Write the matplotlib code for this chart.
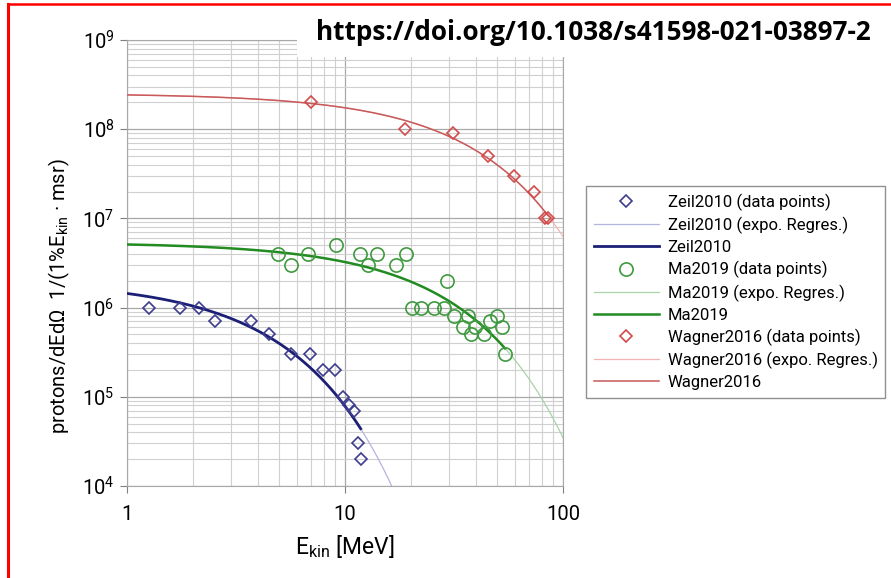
import numpy as np
import matplotlib
matplotlib.use("Agg")
import matplotlib.pyplot as plt
from matplotlib.lines import Line2D
from matplotlib.patches import Rectangle
from matplotlib.ticker import FixedLocator, FixedFormatter

plt.rcParams['font.family'] = ['Roboto', 'DejaVu Sans']
plt.rcParams['mathtext.fontset'] = 'custom'
plt.rcParams['mathtext.rm'] = 'Roboto'
plt.rcParams['mathtext.it'] = 'Roboto:italic'
plt.rcParams['mathtext.bf'] = 'Roboto:bold'

###########################
# Data
###########################

zeil_e = [1.26, 1.75, 2.14, 2.53, 3.7, 4.5, 5.65, 6.9, 7.9, 9.0, 9.8, 10.4, 11.0, 11.5, 11.8]
zeil_n = [1e6, 1e6, 1e6, 7e5, 7e5, 5e5, 3e5, 3e5, 2e5, 2e5, 1e5, 8e4, 7e4, 3e4, 2e4]

ma_e = [4.93, 5.65, 6.77, 9.1, 11.7, 12.8, 14.0, 17.1, 19.0, 29.4,
        20.3, 22.3, 25.6, 28.5, 31.6, 36.7, 34.8, 39.5, 37.8, 43.4, 46.3, 49.8, 52.5, 54.2]
ma_n = [4e6, 3e6, 4e6, 5e6, 4e6, 3e6, 4e6, 3e6, 4e6, 2e6,
        1e6, 1e6, 1e6, 1e6, 8e5, 8e5, 6e5, 6e5, 5e5, 5e5, 7e5, 8e5, 6e5, 3e5]

wagner_e = [7.0, 18.8, 31.3, 45.3, 59.6, 73.6, 82.7, 85.3]
wagner_n = [2e8, 1e8, 9e7, 5e7, 3e7, 2e7, 1e7, 1e7]

x_ticks = [1, 10, 100]
x_tick_labels = ['1', '10', '100']

series = [
    # name, x, y, marker, marker colour, fit colour, line colour, line width, marker size
    ('Zeil2010', zeil_e, zeil_n, 'D', '#3d3d8f', '#b4b4e0', '#1b1f75', 2.0, 6.5),
    ('Ma2019', ma_e, ma_n, 'o', '#3f9a3f', '#a9d3a9', '#228b22', 1.8, 9.5),
    ('Wagner2016', wagner_e, wagner_n, 'D', '#d24b4b', '#f2b3b3', '#c85a5a', 1.1, 6.5),
]

###########################
# Plot
###########################

fig = plt.figure(figsize=(8.91, 5.78), dpi=100)
ax = fig.add_axes([127 / 891, 1 - 486 / 578, 436 / 891, 446 / 578])
ax.set_xscale('log')
ax.set_yscale('log')
ax.set_xlim(1, 100)
ax.set_ylim(1e4, 1e9)
ax.xaxis.set_major_locator(FixedLocator(x_ticks))
ax.xaxis.set_major_formatter(FixedFormatter(x_tick_labels))

ax.grid(which='major', color='#a8a8a8', linewidth=0.9)
ax.grid(which='minor', color='#d0d0d0', linewidth=0.8)
ax.set_axisbelow(True)
for s in ax.spines.values():
    s.set_color('#a8a8a8')
ax.tick_params(which='minor', length=0)
ax.tick_params(which='major', length=5, color='#808080', labelsize=14.5, pad=4)
ax.tick_params(axis='x', which='major', pad=9)

x_full = np.geomspace(1, 100, 500)
handles = []
for name, xs, ys, mk, mc, fc, lc, lw, ms in series:
    xs = np.array(xs)
    ys = np.array(ys)
    # exponential regression, like the spreadsheet trendline
    b, a = np.polyfit(xs, np.log(ys), 1)
    x_thick = np.geomspace(1, xs.max(), 300)
    h1, = ax.plot(xs, ys, linestyle='none', marker=mk, markersize=ms,
                  markerfacecolor='none', markeredgecolor=mc, markeredgewidth=1.2,
                  label=f'{name} (data points)', zorder=4)
    h2, = ax.plot(x_full, np.exp(a + b * x_full), color=fc, linewidth=0.9,
                  label=f'{name} (expo. Regres.)', zorder=2)
    h3, = ax.plot(x_thick, np.exp(a + b * x_thick), color=lc, linewidth=lw,
                  label=name, zorder=3)
    handles += [h1, h2, h3]

ax.set_xlabel(r'E$_{\mathrm{kin}}$ [MeV]', fontsize=16.5)
ax.xaxis.set_label_coords(0.5, -0.105)
ax.set_ylabel('protons/dEd\u03a9  1/(1%E$_{\\mathrm{kin}}$ \u00b7 msr)', fontsize=14.5)
ax.yaxis.set_label_coords(-0.126, 0.426)

leg = fig.legend(handles=handles, loc='upper left',
                 bbox_to_anchor=(586 / 891, 1 - 186 / 578), bbox_transform=fig.transFigure,
                 fontsize=12, handlelength=3.9, handletextpad=0.55, labelspacing=0.36,
                 borderaxespad=0, fancybox=False, framealpha=1, borderpad=0.45)
leg.get_frame().set_edgecolor('#909090')
leg.get_frame().set_linewidth(1.0)

# white label box with the source link
fig.patches.append(Rectangle((297 / 891, 1 - 57 / 578), 594 / 891, 53 / 578,
                             transform=fig.transFigure, facecolor='white',
                             edgecolor='none', zorder=5))
fig.text(316 / 891, 1 - 32 / 578, 'https://doi.org/10.1038/s41598-021-03897-2',
         fontsize=18.8, fontweight='bold', family=['Open Sans', 'DejaVu Sans'],
         va='center', ha='left', zorder=6)

# red frame
fig.lines.append(Line2D([7.5 / 891, 7.5 / 891], [0, 1 - 4 / 578], transform=fig.transFigure,
                        color='red', linewidth=2.2, zorder=7))
fig.lines.append(Line2D([7.5 / 891, 1], [1 - 4 / 578, 1 - 4 / 578], transform=fig.transFigure,
                        color='red', linewidth=1.8, zorder=7))

fig.savefig('out.png', dpi=100)
